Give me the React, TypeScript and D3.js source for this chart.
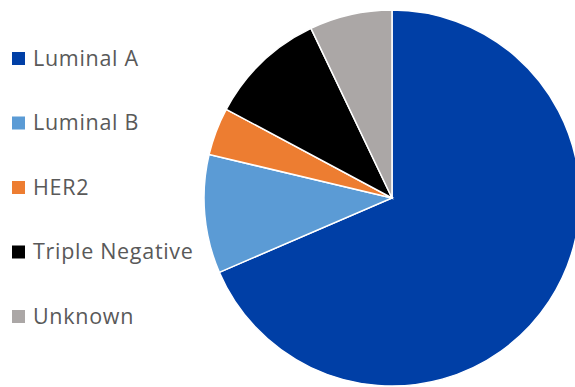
import React from "react";
import * as d3 from "d3";

const categories = ["Luminal A", "Luminal B", "HER2", "Triple Negative", "Unknown"];
const values = [68.6, 10.2, 4.1, 10.1, 7.1];
const colors = ["#003FA6", "#5B9BD5", "#ED7D31", "#000000", "#ABA7A6"];

const W = 575;
const H = 387;

export default function App() {
  const cx = 392;
  const cy = 198;
  const r = 188;
  const pie = d3.pie<number>().sort(null).value((d) => d)(values);
  const arc = d3.arc<d3.PieArcDatum<number>>().innerRadius(0).outerRadius(r);
  const legendY = d3.scalePoint<string>().domain(categories).range([58, 316]);

  return (
    <svg
      width={W}
      height={H}
      style={{ position: "absolute", left: 0, top: 0, background: "#fff" }}
    >
      <g transform={`translate(${cx},${cy})`}>
        {pie.map((p, i) => (
          <path key={i} d={arc(p) || ""} fill={colors[i]} stroke="#fff" strokeWidth={1.5} />
        ))}
      </g>
      {categories.map((c, i) => {
        const y = legendY(c)!;
        return (
          <g key={c}>
            <rect x={12} y={y - 6} width={13} height={13} fill={colors[i]} />
            <text
              x={33}
              y={y}
              dy="0.36em"
              fontFamily="'Open Sans', sans-serif"
              fontSize={21.5}
              letterSpacing={0.7}
              fill="#595959"
            >
              {c}
            </text>
          </g>
        );
      })}
    </svg>
  );
}
